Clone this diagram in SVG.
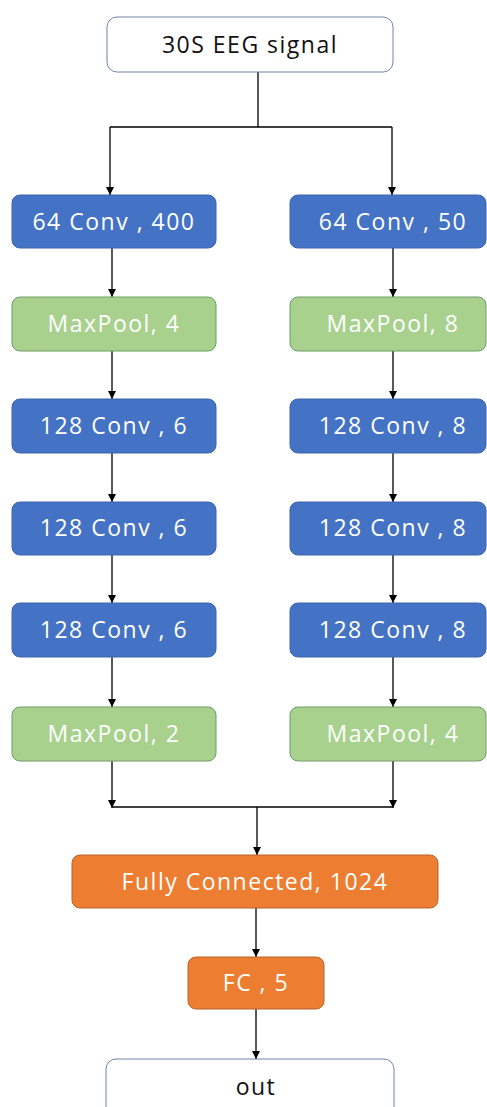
<svg xmlns="http://www.w3.org/2000/svg" width="487" height="1107" viewBox="0 0 487 1107">
<defs>
<marker id="ah" markerWidth="10" markerHeight="10" refX="9" refY="5" orient="auto" markerUnits="userSpaceOnUse" viewBox="0 0 10 10">
<path d="M1,1 L9,5 L1,9 Z" fill="#000"/>
</marker>
<style>
.conv{fill:#4472C4;stroke:#3A64AE;stroke-width:1}
.pool{fill:#A9D18E;stroke:#6E9B6A;stroke-width:1}
.fc{fill:#ED7D31;stroke:#B5652C;stroke-width:1}
.io{fill:#FFFFFF;stroke:#6F86A8;stroke-width:1}
.lbl{font-family:"Open Sans","Noto Sans",sans-serif;font-size:23px;letter-spacing:1.5px;text-anchor:middle;fill:#FFFFFF}
.dark{fill:#111111}
.ln{stroke:#000;stroke-width:1.3;fill:none}
.ar{marker-end:url(#ah)}
</style>
</defs>
<rect width="487" height="1107" fill="#FFFFFF"/>
<g id="connectors">
<path class="ln" d="M258,72 V127 M110,127 H392"/>
<path class="ln ar" d="M110,127 V195"/>
<path class="ln ar" d="M392,127 V195"/>
<path class="ln ar" d="M112,248 V297"/>
<path class="ln ar" d="M393,248 V297"/>
<path class="ln ar" d="M112,351 V399"/>
<path class="ln ar" d="M393,351 V399"/>
<path class="ln ar" d="M112,453 V502"/>
<path class="ln ar" d="M393,453 V502"/>
<path class="ln ar" d="M112,555 V603"/>
<path class="ln ar" d="M393,555 V603"/>
<path class="ln ar" d="M112,657 V707"/>
<path class="ln ar" d="M393,657 V707"/>
<path class="ln ar" d="M112,761 V808"/>
<path class="ln ar" d="M393,761 V808"/>
<path class="ln" d="M112,807 H393"/>
<path class="ln ar" d="M257,807 V855"/>
<path class="ln ar" d="M256,908 V957"/>
<path class="ln ar" d="M256,1009 V1059"/>
</g>
<g id="input"><rect class="io" x="107" y="17" width="286" height="55" rx="10"/><text class="lbl dark" x="250" y="53">30S EEG signal</text></g>
<g id="l1"><rect class="conv" x="12" y="195" width="204" height="53" rx="8"/><text class="lbl" x="114" y="230">64 Conv , 400</text></g>
<g id="r1"><rect class="conv" x="290" y="195" width="196" height="53" rx="8"/><text class="lbl" x="393" y="230">64 Conv , 50</text></g>
<g id="l2"><rect class="pool" x="12" y="297" width="204" height="54" rx="8"/><text class="lbl" x="114" y="332">MaxPool, 4</text></g>
<g id="r2"><rect class="pool" x="290" y="297" width="196" height="54" rx="8"/><text class="lbl" x="393" y="332">MaxPool, 8</text></g>
<g id="l3"><rect class="conv" x="12" y="399" width="204" height="54" rx="8"/><text class="lbl" x="114" y="434">128 Conv , 6</text></g>
<g id="r3"><rect class="conv" x="290" y="399" width="196" height="54" rx="8"/><text class="lbl" x="393" y="434">128 Conv , 8</text></g>
<g id="l4"><rect class="conv" x="12" y="502" width="204" height="53" rx="8"/><text class="lbl" x="114" y="536">128 Conv , 6</text></g>
<g id="r4"><rect class="conv" x="290" y="502" width="196" height="53" rx="8"/><text class="lbl" x="393" y="536">128 Conv , 8</text></g>
<g id="l5"><rect class="conv" x="12" y="603" width="204" height="54" rx="8"/><text class="lbl" x="114" y="638">128 Conv , 6</text></g>
<g id="r5"><rect class="conv" x="290" y="603" width="196" height="54" rx="8"/><text class="lbl" x="393" y="638">128 Conv , 8</text></g>
<g id="l6"><rect class="pool" x="12" y="707" width="204" height="54" rx="8"/><text class="lbl" x="114" y="742">MaxPool, 2</text></g>
<g id="r6"><rect class="pool" x="290" y="707" width="196" height="54" rx="8"/><text class="lbl" x="393" y="742">MaxPool, 4</text></g>
<g id="fc1"><rect class="fc" x="72" y="855" width="366" height="53" rx="8"/><text class="lbl" x="255" y="890">Fully Connected, 1024</text></g>
<g id="fc2"><rect class="fc" x="188" y="957" width="136" height="52" rx="8"/><text class="lbl" x="256" y="991">FC , 5</text></g>
<g id="out"><rect class="io" x="106" y="1059" width="288" height="60" rx="10"/><text class="lbl dark" x="256" y="1095">out</text></g>
</svg>
